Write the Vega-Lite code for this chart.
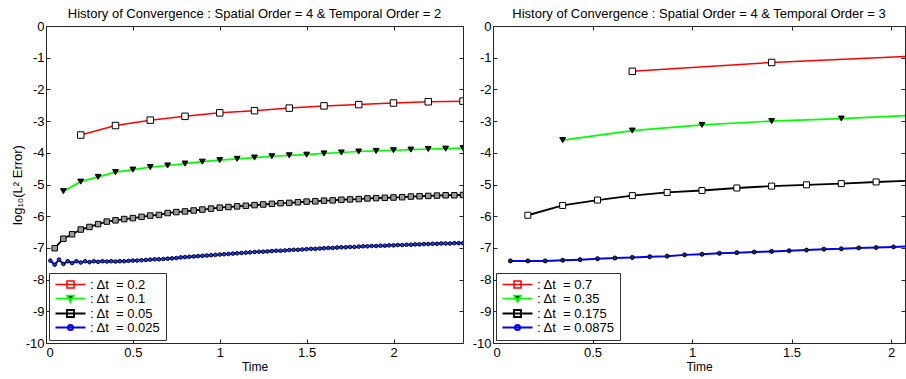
{
  "$schema": "https://vega.github.io/schema/vega-lite/v6.json",
  "padding": {"left": 10, "top": 7, "right": 0, "bottom": 0},
  "spacing": 7,
  "config": {
    "font": "Liberation Sans",
    "view": {"stroke": "#262626", "strokeWidth": 1},
    "axis": {"labelFont": "Liberation Sans", "labelFontSize": 13, "labelColor": "black", "tickColor": "#262626", "tickSize": -4, "domain": false, "grid": false, "titleFont": "Liberation Sans", "titleFontSize": 12, "titleFontWeight": "normal", "titleColor": "black", "labelPadding": 6},
    "title": {"font": "Liberation Sans", "fontSize": 13, "fontWeight": "normal", "color": "black", "offset": -1, "anchor": "middle"},
    "legend": {
      "orient": "bottom-left", "offset": 3, "title": null, "padding": 5, "strokeColor": "#333333", "fillColor": "white",
      "labelFont": "Liberation Sans", "labelFontSize": 13, "labelColor": "black", "symbolSize": 100, "symbolStrokeWidth": 1.5,
      "labelOffset": 23, "rowPadding": 0
    }
  },
  "datasets": {
    "left": [
      {"s": "0.2", "t": 0.2, "v": -3.44}, {"s": "0.2", "t": 0.4, "v": -3.14}, {"s": "0.2", "t": 0.6, "v": -2.97}, {"s": "0.2", "t": 0.8, "v": -2.85}, {"s": "0.2", "t": 1.0, "v": -2.74}, {"s": "0.2", "t": 1.2, "v": -2.67}, {"s": "0.2", "t": 1.4, "v": -2.59}, {"s": "0.2", "t": 1.6, "v": -2.52}, {"s": "0.2", "t": 1.8, "v": -2.48}, {"s": "0.2", "t": 2.0, "v": -2.43}, {"s": "0.2", "t": 2.2, "v": -2.39}, {"s": "0.2", "t": 2.4, "v": -2.37},
      {"s": "0.1", "t": 0.1, "v": -5.21}, {"s": "0.1", "t": 0.2, "v": -4.91}, {"s": "0.1", "t": 0.3, "v": -4.76}, {"s": "0.1", "t": 0.4, "v": -4.61}, {"s": "0.1", "t": 0.5, "v": -4.53}, {"s": "0.1", "t": 0.6, "v": -4.45}, {"s": "0.1", "t": 0.7, "v": -4.40}, {"s": "0.1", "t": 0.8, "v": -4.34}, {"s": "0.1", "t": 0.9, "v": -4.28}, {"s": "0.1", "t": 1.0, "v": -4.23}, {"s": "0.1", "t": 1.1, "v": -4.19}, {"s": "0.1", "t": 1.2, "v": -4.15}, {"s": "0.1", "t": 1.3, "v": -4.11}, {"s": "0.1", "t": 1.4, "v": -4.08}, {"s": "0.1", "t": 1.5, "v": -4.06}, {"s": "0.1", "t": 1.6, "v": -4.02}, {"s": "0.1", "t": 1.7, "v": -3.99}, {"s": "0.1", "t": 1.8, "v": -3.96}, {"s": "0.1", "t": 1.9, "v": -3.94}, {"s": "0.1", "t": 2.0, "v": -3.92}, {"s": "0.1", "t": 2.1, "v": -3.90}, {"s": "0.1", "t": 2.2, "v": -3.88}, {"s": "0.1", "t": 2.3, "v": -3.87}, {"s": "0.1", "t": 2.4, "v": -3.85},
      {"s": "0.05", "t": 0.05, "v": -7.01}, {"s": "0.05", "t": 0.1, "v": -6.71}, {"s": "0.05", "t": 0.15, "v": -6.57}, {"s": "0.05", "t": 0.2, "v": -6.42}, {"s": "0.05", "t": 0.25, "v": -6.34}, {"s": "0.05", "t": 0.3, "v": -6.25}, {"s": "0.05", "t": 0.35, "v": -6.17}, {"s": "0.05", "t": 0.4, "v": -6.13}, {"s": "0.05", "t": 0.45, "v": -6.09}, {"s": "0.05", "t": 0.5, "v": -6.06}, {"s": "0.05", "t": 0.55, "v": -6.02}, {"s": "0.05", "t": 0.6, "v": -5.98}, {"s": "0.05", "t": 0.65, "v": -5.96}, {"s": "0.05", "t": 0.7, "v": -5.90}, {"s": "0.05", "t": 0.75, "v": -5.87}, {"s": "0.05", "t": 0.8, "v": -5.85}, {"s": "0.05", "t": 0.85, "v": -5.82}, {"s": "0.05", "t": 0.9, "v": -5.79}, {"s": "0.05", "t": 0.95, "v": -5.76}, {"s": "0.05", "t": 1.0, "v": -5.73}, {"s": "0.05", "t": 1.05, "v": -5.71}, {"s": "0.05", "t": 1.1, "v": -5.69}, {"s": "0.05", "t": 1.15, "v": -5.67}, {"s": "0.05", "t": 1.2, "v": -5.65}, {"s": "0.05", "t": 1.25, "v": -5.63}, {"s": "0.05", "t": 1.3, "v": -5.61}, {"s": "0.05", "t": 1.35, "v": -5.59}, {"s": "0.05", "t": 1.4, "v": -5.58}, {"s": "0.05", "t": 1.45, "v": -5.56}, {"s": "0.05", "t": 1.5, "v": -5.54}, {"s": "0.05", "t": 1.55, "v": -5.53}, {"s": "0.05", "t": 1.6, "v": -5.51}, {"s": "0.05", "t": 1.65, "v": -5.50}, {"s": "0.05", "t": 1.7, "v": -5.48}, {"s": "0.05", "t": 1.75, "v": -5.47}, {"s": "0.05", "t": 1.8, "v": -5.46}, {"s": "0.05", "t": 1.85, "v": -5.44}, {"s": "0.05", "t": 1.9, "v": -5.43}, {"s": "0.05", "t": 1.95, "v": -5.42}, {"s": "0.05", "t": 2.0, "v": -5.41}, {"s": "0.05", "t": 2.05, "v": -5.40}, {"s": "0.05", "t": 2.1, "v": -5.38}, {"s": "0.05", "t": 2.15, "v": -5.37}, {"s": "0.05", "t": 2.2, "v": -5.36}, {"s": "0.05", "t": 2.25, "v": -5.35}, {"s": "0.05", "t": 2.3, "v": -5.34}, {"s": "0.05", "t": 2.35, "v": -5.34}, {"s": "0.05", "t": 2.4, "v": -5.33},
      {"s": "0.025", "t": 0.025, "v": -7.40}, {"s": "0.025", "t": 0.05, "v": -7.53}, {"s": "0.025", "t": 0.075, "v": -7.37}, {"s": "0.025", "t": 0.1, "v": -7.51}, {"s": "0.025", "t": 0.125, "v": -7.42}, {"s": "0.025", "t": 0.15, "v": -7.48}, {"s": "0.025", "t": 0.175, "v": -7.42}, {"s": "0.025", "t": 0.2, "v": -7.46}, {"s": "0.025", "t": 0.225, "v": -7.42}, {"s": "0.025", "t": 0.25, "v": -7.45}, {"s": "0.025", "t": 0.275, "v": -7.42}, {"s": "0.025", "t": 0.3, "v": -7.44}, {"s": "0.025", "t": 0.325, "v": -7.42}, {"s": "0.025", "t": 0.35, "v": -7.43}, {"s": "0.025", "t": 0.375, "v": -7.42}, {"s": "0.025", "t": 0.4, "v": -7.43}, {"s": "0.025", "t": 0.425, "v": -7.42}, {"s": "0.025", "t": 0.45, "v": -7.42}, {"s": "0.025", "t": 0.475, "v": -7.41}, {"s": "0.025", "t": 0.5, "v": -7.40}, {"s": "0.025", "t": 0.525, "v": -7.40}, {"s": "0.025", "t": 0.55, "v": -7.39}, {"s": "0.025", "t": 0.575, "v": -7.38}, {"s": "0.025", "t": 0.6, "v": -7.37}, {"s": "0.025", "t": 0.625, "v": -7.36}, {"s": "0.025", "t": 0.65, "v": -7.36}, {"s": "0.025", "t": 0.675, "v": -7.35}, {"s": "0.025", "t": 0.7, "v": -7.34}, {"s": "0.025", "t": 0.725, "v": -7.33}, {"s": "0.025", "t": 0.75, "v": -7.32}, {"s": "0.025", "t": 0.775, "v": -7.30}, {"s": "0.025", "t": 0.8, "v": -7.29}, {"s": "0.025", "t": 0.825, "v": -7.28}, {"s": "0.025", "t": 0.85, "v": -7.27}, {"s": "0.025", "t": 0.875, "v": -7.26}, {"s": "0.025", "t": 0.9, "v": -7.25}, {"s": "0.025", "t": 0.925, "v": -7.24}, {"s": "0.025", "t": 0.95, "v": -7.23}, {"s": "0.025", "t": 0.975, "v": -7.22}, {"s": "0.025", "t": 1.0, "v": -7.21}, {"s": "0.025", "t": 1.025, "v": -7.20}, {"s": "0.025", "t": 1.05, "v": -7.19}, {"s": "0.025", "t": 1.075, "v": -7.18}, {"s": "0.025", "t": 1.1, "v": -7.17}, {"s": "0.025", "t": 1.125, "v": -7.16}, {"s": "0.025", "t": 1.15, "v": -7.15}, {"s": "0.025", "t": 1.175, "v": -7.14}, {"s": "0.025", "t": 1.2, "v": -7.13}, {"s": "0.025", "t": 1.225, "v": -7.12}, {"s": "0.025", "t": 1.25, "v": -7.12}, {"s": "0.025", "t": 1.275, "v": -7.11}, {"s": "0.025", "t": 1.3, "v": -7.10}, {"s": "0.025", "t": 1.325, "v": -7.09}, {"s": "0.025", "t": 1.35, "v": -7.09}, {"s": "0.025", "t": 1.375, "v": -7.08}, {"s": "0.025", "t": 1.4, "v": -7.07}, {"s": "0.025", "t": 1.425, "v": -7.06}, {"s": "0.025", "t": 1.45, "v": -7.06}, {"s": "0.025", "t": 1.475, "v": -7.05}, {"s": "0.025", "t": 1.5, "v": -7.04}, {"s": "0.025", "t": 1.525, "v": -7.03}, {"s": "0.025", "t": 1.55, "v": -7.03}, {"s": "0.025", "t": 1.575, "v": -7.02}, {"s": "0.025", "t": 1.6, "v": -7.01}, {"s": "0.025", "t": 1.625, "v": -7.00}, {"s": "0.025", "t": 1.65, "v": -7.00}, {"s": "0.025", "t": 1.675, "v": -6.99}, {"s": "0.025", "t": 1.7, "v": -6.98}, {"s": "0.025", "t": 1.725, "v": -6.98}, {"s": "0.025", "t": 1.75, "v": -6.97}, {"s": "0.025", "t": 1.775, "v": -6.97}, {"s": "0.025", "t": 1.8, "v": -6.96}, {"s": "0.025", "t": 1.825, "v": -6.95}, {"s": "0.025", "t": 1.85, "v": -6.95}, {"s": "0.025", "t": 1.875, "v": -6.94}, {"s": "0.025", "t": 1.9, "v": -6.94}, {"s": "0.025", "t": 1.925, "v": -6.93}, {"s": "0.025", "t": 1.95, "v": -6.93}, {"s": "0.025", "t": 1.975, "v": -6.92}, {"s": "0.025", "t": 2.0, "v": -6.92}, {"s": "0.025", "t": 2.025, "v": -6.91}, {"s": "0.025", "t": 2.05, "v": -6.91}, {"s": "0.025", "t": 2.075, "v": -6.90}, {"s": "0.025", "t": 2.1, "v": -6.90}, {"s": "0.025", "t": 2.125, "v": -6.89}, {"s": "0.025", "t": 2.15, "v": -6.89}, {"s": "0.025", "t": 2.175, "v": -6.88}, {"s": "0.025", "t": 2.2, "v": -6.88}, {"s": "0.025", "t": 2.225, "v": -6.87}, {"s": "0.025", "t": 2.25, "v": -6.87}, {"s": "0.025", "t": 2.275, "v": -6.86}, {"s": "0.025", "t": 2.3, "v": -6.86}, {"s": "0.025", "t": 2.325, "v": -6.86}, {"s": "0.025", "t": 2.35, "v": -6.85}, {"s": "0.025", "t": 2.375, "v": -6.85}, {"s": "0.025", "t": 2.4, "v": -6.85}
    ],
    "right": [
      {"s": "0.7", "t": 0.7, "v": -1.43}, {"s": "0.7", "t": 1.4, "v": -1.15}, {"s": "0.7", "t": 2.1, "v": -0.95},
      {"s": "0.35", "t": 0.35, "v": -3.6}, {"s": "0.35", "t": 0.7, "v": -3.3}, {"s": "0.35", "t": 1.05, "v": -3.12}, {"s": "0.35", "t": 1.4, "v": -3.0}, {"s": "0.35", "t": 1.75, "v": -2.92}, {"s": "0.35", "t": 2.1, "v": -2.82},
      {"s": "0.175", "t": 0.175, "v": -5.97}, {"s": "0.175", "t": 0.35, "v": -5.66}, {"s": "0.175", "t": 0.525, "v": -5.49}, {"s": "0.175", "t": 0.7, "v": -5.35}, {"s": "0.175", "t": 0.875, "v": -5.25}, {"s": "0.175", "t": 1.05, "v": -5.19}, {"s": "0.175", "t": 1.225, "v": -5.11}, {"s": "0.175", "t": 1.4, "v": -5.05}, {"s": "0.175", "t": 1.575, "v": -5.01}, {"s": "0.175", "t": 1.75, "v": -4.97}, {"s": "0.175", "t": 1.925, "v": -4.92}, {"s": "0.175", "t": 2.1, "v": -4.88},
      {"s": "0.0875", "t": 0.0875, "v": -7.41}, {"s": "0.0875", "t": 0.175, "v": -7.41}, {"s": "0.0875", "t": 0.2625, "v": -7.41}, {"s": "0.0875", "t": 0.35, "v": -7.39}, {"s": "0.0875", "t": 0.4375, "v": -7.37}, {"s": "0.0875", "t": 0.525, "v": -7.34}, {"s": "0.0875", "t": 0.6125, "v": -7.32}, {"s": "0.0875", "t": 0.7, "v": -7.30}, {"s": "0.0875", "t": 0.7875, "v": -7.28}, {"s": "0.0875", "t": 0.875, "v": -7.26}, {"s": "0.0875", "t": 0.9625, "v": -7.22}, {"s": "0.0875", "t": 1.05, "v": -7.20}, {"s": "0.0875", "t": 1.1375, "v": -7.17}, {"s": "0.0875", "t": 1.225, "v": -7.15}, {"s": "0.0875", "t": 1.3125, "v": -7.13}, {"s": "0.0875", "t": 1.4, "v": -7.11}, {"s": "0.0875", "t": 1.4875, "v": -7.09}, {"s": "0.0875", "t": 1.575, "v": -7.07}, {"s": "0.0875", "t": 1.6625, "v": -7.04}, {"s": "0.0875", "t": 1.75, "v": -7.03}, {"s": "0.0875", "t": 1.8375, "v": -7.00}, {"s": "0.0875", "t": 1.925, "v": -6.99}, {"s": "0.0875", "t": 2.0125, "v": -6.97}, {"s": "0.0875", "t": 2.1, "v": -6.95}
    ]
  },
  "hconcat": [
    {
      "width": 417, "height": 317,
      "title": {"text": "History of Convergence : Spatial Order = 4 & Temporal Order = 2"},
      "data": {"name": "left"},
      "layer": [
        {
          "mark": {"type": "line", "clip": true},
          "encoding": {
            "x": {"field": "t", "type": "quantitative", "scale": {"domain": [0, 2.4], "nice": false, "zero": false}, "axis": {"orient": "bottom", "values": [0, 0.5, 1, 1.5, 2], "labelExpr": "'' + datum.value", "labelPadding": 7, "title": "Time", "titlePadding": 2}},
            "y": {"field": "v", "type": "quantitative", "scale": {"domain": [-10, 0], "nice": false, "zero": false}, "axis": {"orient": "left", "values": [-10, -9, -8, -7, -6, -5, -4, -3, -2, -1, 0], "labelExpr": "'' + datum.value", "title": "log₁₀(L² Error)", "titleFontSize": 13, "titlePadding": 1}},
            "color": {"field": "s", "type": "nominal", "scale": {"domain": ["0.2", "0.1", "0.05", "0.025"], "range": ["#ff0000", "#00ff00", "#000000", "#0000ff"]},
              "legend": {"labelExpr": "': Δt\u00a0 = ' + datum.label",
                "encode": {"symbols": {"update": {
                  "shape": {"signal": "['M-1,0H5M1.3,-0.7H2.7V0.7H1.3Z','M-1,0H5M1.3,-0.6H2.7L2,0.7Z','M-1,0H5M1.3,-0.7H2.7V0.7H1.3Z','M-1,0H5M2.5,0A0.5,0.5,0,1,1,1.5,0A0.5,0.5,0,1,1,2.5,0'][datum.index]"},
                  "fill": {"signal": "datum.index == 1 ? '#111111' : 'transparent'"}
                }}}}},
            "strokeWidth": {"field": "s", "type": "nominal", "scale": {"domain": ["0.2", "0.1", "0.05", "0.025"], "range": [1.5, 2, 1.2, 2]}, "legend": null},
            "order": {"field": "t"}
          }
        },
        {
          "transform": [{"filter": {"field": "s", "equal": "0.2"}}],
          "mark": {"type": "point", "shape": "square", "filled": true, "fill": "white", "stroke": "black", "strokeWidth": 1, "size": 42, "opacity": 1, "clip": true},
          "encoding": {
            "x": {"field": "t", "type": "quantitative", "scale": {"domain": [0, 2.4], "nice": false, "zero": false}, "axis": {"orient": "top", "values": [0, 0.5, 1, 1.5, 2], "labels": false, "title": null}},
            "y": {"field": "v", "type": "quantitative", "scale": {"domain": [-10, 0], "nice": false, "zero": false}, "axis": {"orient": "right", "values": [-10, -9, -8, -7, -6, -5, -4, -3, -2, -1, 0], "labels": false, "title": null}}
          }
        },
        {
          "transform": [{"filter": {"field": "s", "equal": "0.1"}}],
          "mark": {"type": "point", "shape": "triangle-down", "filled": true, "fill": "#111111", "stroke": "black", "strokeWidth": 1, "size": 34, "opacity": 1, "clip": true},
          "encoding": {
            "x": {"field": "t", "type": "quantitative", "axis": null},
            "y": {"field": "v", "type": "quantitative", "axis": null}
          }
        },
        {
          "transform": [{"filter": {"field": "s", "equal": "0.05"}}],
          "mark": {"type": "point", "shape": "square", "filled": true, "fill": "#9a9a9a", "stroke": "black", "strokeWidth": 1, "size": 30, "opacity": 1, "clip": true},
          "encoding": {
            "x": {"field": "t", "type": "quantitative", "axis": null},
            "y": {"field": "v", "type": "quantitative", "axis": null}
          }
        },
        {
          "transform": [{"filter": {"field": "s", "equal": "0.025"}}],
          "mark": {"type": "point", "shape": "circle", "filled": true, "fill": "#2040e0", "stroke": "#000030", "strokeWidth": 1, "size": 13, "opacity": 1, "clip": true},
          "encoding": {
            "x": {"field": "t", "type": "quantitative", "axis": null},
            "y": {"field": "v", "type": "quantitative", "axis": null}
          }
        }
      ],
      "resolve": {"axis": {"x": "independent", "y": "independent"}}
    },
    {
      "width": 412, "height": 317,
      "title": {"text": "History of Convergence : Spatial Order = 4 & Temporal Order = 3"},
      "data": {"name": "right"},
      "layer": [
        {
          "mark": {"type": "line", "clip": true},
          "encoding": {
            "x": {"field": "t", "type": "quantitative", "scale": {"domain": [0, 2.07], "nice": false, "zero": false}, "axis": {"orient": "bottom", "values": [0, 0.5, 1, 1.5, 2], "labelExpr": "'' + datum.value", "labelPadding": 7, "title": "Time", "titlePadding": 2}},
            "y": {"field": "v", "type": "quantitative", "scale": {"domain": [-10, 0], "nice": false, "zero": false}, "axis": {"orient": "left", "values": [-10, -9, -8, -7, -6, -5, -4, -3, -2, -1, 0], "labelExpr": "'' + datum.value", "title": null}},
            "color": {"field": "s", "type": "nominal", "scale": {"domain": ["0.7", "0.35", "0.175", "0.0875"], "range": ["#ff0000", "#00ff00", "#000000", "#0000ff"]},
              "legend": {"labelExpr": "': Δt\u00a0 = ' + datum.label",
                "encode": {"symbols": {"update": {
                  "shape": {"signal": "['M-1,0H5M1.3,-0.7H2.7V0.7H1.3Z','M-1,0H5M1.3,-0.6H2.7L2,0.7Z','M-1,0H5M1.3,-0.7H2.7V0.7H1.3Z','M-1,0H5M2.5,0A0.5,0.5,0,1,1,1.5,0A0.5,0.5,0,1,1,2.5,0'][datum.index]"},
                  "fill": {"signal": "datum.index == 1 ? '#111111' : 'transparent'"}
                }}}}},
            "strokeWidth": {"field": "s", "type": "nominal", "scale": {"domain": ["0.7", "0.35", "0.175", "0.0875"], "range": [1.5, 2, 1.2, 2]}, "legend": null},
            "order": {"field": "t"}
          }
        },
        {
          "transform": [{"filter": {"field": "s", "equal": "0.7"}}],
          "mark": {"type": "point", "shape": "square", "filled": true, "fill": "white", "stroke": "black", "strokeWidth": 1, "size": 42, "opacity": 1, "clip": true},
          "encoding": {
            "x": {"field": "t", "type": "quantitative", "scale": {"domain": [0, 2.07], "nice": false, "zero": false}, "axis": {"orient": "top", "values": [0, 0.5, 1, 1.5, 2], "labels": false, "title": null}},
            "y": {"field": "v", "type": "quantitative", "scale": {"domain": [-10, 0], "nice": false, "zero": false}, "axis": {"orient": "right", "values": [-10, -9, -8, -7, -6, -5, -4, -3, -2, -1, 0], "labels": false, "title": null}}
          }
        },
        {
          "transform": [{"filter": {"field": "s", "equal": "0.35"}}],
          "mark": {"type": "point", "shape": "triangle-down", "filled": true, "fill": "#111111", "stroke": "black", "strokeWidth": 1, "size": 34, "opacity": 1, "clip": true},
          "encoding": {
            "x": {"field": "t", "type": "quantitative", "axis": null},
            "y": {"field": "v", "type": "quantitative", "axis": null}
          }
        },
        {
          "transform": [{"filter": {"field": "s", "equal": "0.175"}}],
          "mark": {"type": "point", "shape": "square", "filled": true, "fill": "white", "stroke": "black", "strokeWidth": 1, "size": 36, "opacity": 1, "clip": true},
          "encoding": {
            "x": {"field": "t", "type": "quantitative", "axis": null},
            "y": {"field": "v", "type": "quantitative", "axis": null}
          }
        },
        {
          "transform": [{"filter": {"field": "s", "equal": "0.0875"}}],
          "mark": {"type": "point", "shape": "circle", "filled": true, "fill": "#202080", "stroke": "black", "strokeWidth": 1, "size": 16, "opacity": 1, "clip": true},
          "encoding": {
            "x": {"field": "t", "type": "quantitative", "axis": null},
            "y": {"field": "v", "type": "quantitative", "axis": null}
          }
        }
      ],
      "resolve": {"axis": {"x": "independent", "y": "independent"}}
    }
  ],
  "resolve": {"scale": {"color": "independent", "strokeWidth": "independent"}, "legend": {"color": "independent"}}
}
